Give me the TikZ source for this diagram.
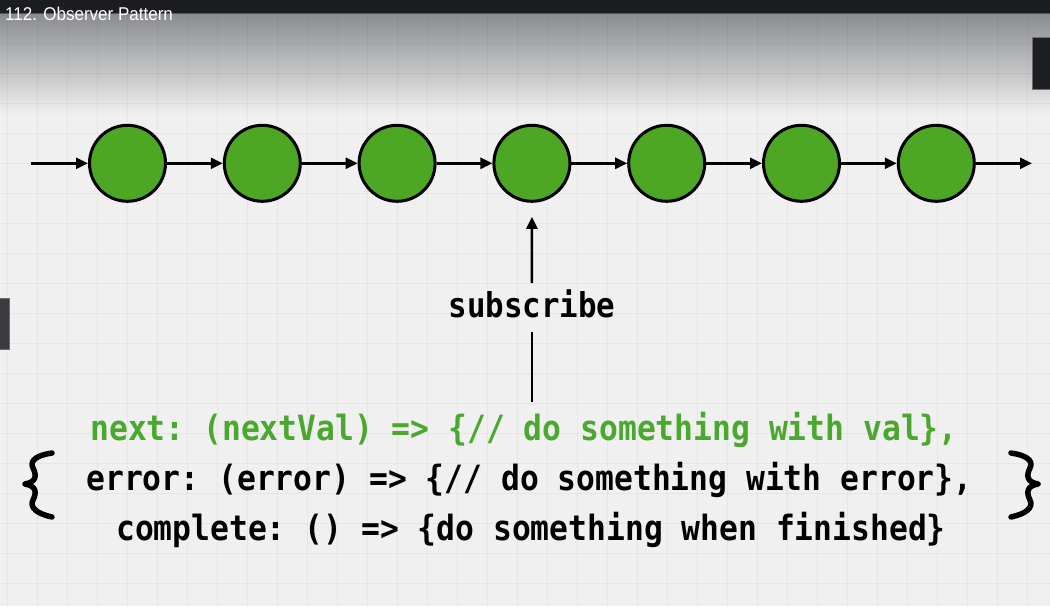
\documentclass[tikz,border=0pt]{standalone}
\usepackage{fontspec}
\setmainfont{Liberation Sans}
\newfontfamily\titlefont{Liberation Sans}[FakeStretch=0.92]
\newfontfamily\codefont{DejaVu Sans Mono}[FakeStretch=0.9]
\usetikzlibrary{arrows.meta}

\definecolor{bg}{RGB}{240,240,240}
\definecolor{barcol}{RGB}{28,29,33}
\definecolor{barrule}{RGB}{85,86,90}
\definecolor{fadetop}{RGB}{138,139,142}
\definecolor{beadgreen}{RGB}{77,167,36}
\definecolor{codegreen}{RGB}{74,168,46}
\definecolor{tabdark}{RGB}{30,31,34}
\definecolor{tabgrey}{RGB}{58,59,62}
\definecolor{tabedge}{RGB}{110,110,112}

\tikzset{
  gridline/.style={black, opacity=0.04, line width=1pt},
  bead/.style={circle, draw=black, line width=3pt, fill=beadgreen,
    minimum size=76pt, inner sep=0pt},
  link/.style={line width=2.5pt, -{Triangle[length=12pt,width=11pt]}},
  stem/.style={line width=2.5pt},
  code/.style={anchor=base, inner sep=0pt,
    font=\codefont\bfseries\fontsize{34.8}{34.8}\selectfont\frenchspacing},
  curly/.style={line width=5.5pt, line cap=round, line join=round},
  tab/.style={draw=tabedge, line width=1pt}
}

\begin{document}
\begin{tikzpicture}[x=1pt, y=-1pt]
  \useasboundingbox (0,0) rectangle (1050,606);

  % paper, top fade and grid
  \fill[bg] (0,0) rectangle (1050,606);
  \shade[top color=fadetop, bottom color=bg] (0,13) rectangle (1050,115);
  \foreach \x in {7,37,...,1047} \draw[gridline] (\x,0) -- (\x,606);
  \foreach \y in {13,43,...,603} \draw[gridline] (0,\y) -- (1050,\y);

  % title bar
  \fill[barcol] (0,0) rectangle (1050,13);
  \draw[barrule, line width=1pt] (0,13.5) -- (1050,13.5);
  \node[anchor=base west, inner sep=0pt, text=white,
        font=\titlefont\fontsize{18.5}{18.5}\selectfont] (title) at (5,20) {112. Observer Pattern};

  % side tabs
  \filldraw[tab, fill=tabdark] (1032.5,37.5) rectangle (1052,89.5);
  \filldraw[tab, fill=tabgrey] (-2,298.5) rectangle (9,349);

  % stream of values
  \foreach \i in {1,...,7}
    \node[bead] (c\i) at ({127.5+134.8*(\i-1)},163.3) {};
  \coordinate (in) at (31,163.3);
  \coordinate (out) at (1032,163.3);
  \draw[link] (in) -- (c1);
  \foreach \i/\j in {1/2,2/3,3/4,4/5,5/6,6/7}
    \draw[link] (c\i) -- (c\j);
  \draw[link] (c7) -- (out);

  % subscription
  \node[code, font=\codefont\bfseries\fontsize{34.2}{34.2}\selectfont] (sub) at (531.9,317) {subscribe};
  \coordinate (bot) at (531.9,402);
  \draw[stem, shorten >=14pt] (bot) -- (sub.south);
  \draw[link, shorten <=6pt, shorten >=14pt] (sub.north) -- (c4.south);

  % observer object
  \node[code, text=codegreen] (next) at (524,440)
    {next: (nextVal) => \{// do something with val\},};
  \node[code] (error) at (529.5,490)
    {error: (error) => \{// do something with error\},};
  \node[code] (complete) at (531,540)
    {complete: () => \{do something when finished\}};

  % enclosing braces
  \draw[curly] (52,453) .. controls (38,455) and (29,460) .. (33,468)
    .. controls (37,476) and (36,482) .. (25,484)
    .. controls (36,486) and (37,492) .. (33,500)
    .. controls (29,508) and (38,514) .. (52,517);
  \draw[curly] (1011,453) .. controls (1025,455) and (1034,460) .. (1030,468)
    .. controls (1026,476) and (1027,482) .. (1038,484)
    .. controls (1027,486) and (1026,492) .. (1030,500)
    .. controls (1034,508) and (1025,514) .. (1011,517);
\end{tikzpicture}
\end{document}
